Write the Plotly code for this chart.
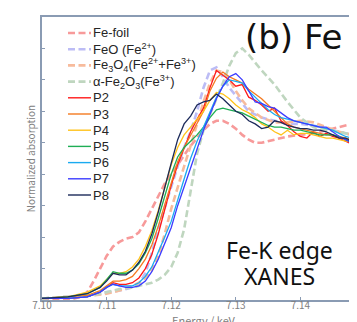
import plotly.graph_objects as go

W, H = 357, 322
ML, MR, MT, MB = 34, 0, 9, 30

# ---------------- data ----------------
E_P = [7.100, 7.104, 7.107, 7.109, 7.110, 7.111, 7.112, 7.113, 7.114, 7.115,
       7.116, 7.117, 7.118, 7.119, 7.120, 7.121, 7.122, 7.123, 7.124, 7.125,
       7.126, 7.127, 7.128, 7.129, 7.130, 7.131, 7.132, 7.133, 7.134, 7.135,
       7.136, 7.137, 7.138, 7.139, 7.140, 7.141, 7.142, 7.143, 7.144, 7.145,
       7.146, 7.147, 7.148, 7.149, 7.150]
P2 = [0.01, 0.01, 0.02, 0.05, 0.08, 0.11, 0.10, 0.10, 0.11, 0.14,
      0.20, 0.29, 0.42, 0.58, 0.73, 0.86, 0.97, 1.07, 1.15, 1.22,
      1.35, 1.46, 1.43, 1.40, 1.36, 1.37, 1.29, 1.27, 1.24, 1.20,
      1.22, 1.14, 1.11, 1.07, 1.04, 1.03, 1.07, 1.04, 1.06, 1.04,
      1.03, 1.01, 0.99, 1.02, 1.01]
P3 = [0.01, 0.02, 0.03, 0.06, 0.09, 0.12, 0.12, 0.13, 0.15, 0.20,
      0.26, 0.35, 0.47, 0.61, 0.75, 0.88, 0.97, 1.05, 1.12, 1.20,
      1.33, 1.41, 1.45, 1.42, 1.40, 1.38, 1.34, 1.31, 1.28, 1.24,
      1.20, 1.16, 1.12, 1.10, 1.09, 1.08, 1.07, 1.06, 1.05, 1.05,
      1.04, 1.03, 1.02, 1.02, 1.01]
P4 = [0.01, 0.02, 0.05, 0.09, 0.13, 0.17, 0.17, 0.18, 0.21, 0.26,
      0.34, 0.44, 0.57, 0.72, 0.86, 0.97, 1.05, 1.10, 1.15, 1.20,
      1.27, 1.32, 1.31, 1.28, 1.24, 1.21, 1.19, 1.16, 1.12, 1.10,
      1.07, 1.05, 1.08, 1.05, 1.06, 1.06, 1.05, 1.04, 1.03, 1.03,
      1.02, 1.01, 1.01, 1.00, 1.00]
P5 = [0.01, 0.02, 0.04, 0.08, 0.13, 0.18, 0.17, 0.17, 0.19, 0.23,
      0.30, 0.39, 0.52, 0.66, 0.80, 0.91, 0.97, 1.01, 1.05, 1.10,
      1.16, 1.21, 1.22, 1.21, 1.20, 1.19, 1.17, 1.15, 1.13, 1.11,
      1.10, 1.10, 1.09, 1.08, 1.08, 1.07, 1.06, 1.05, 1.05, 1.05,
      1.04, 1.02, 1.00, 1.01, 1.01]
P6 = [0.01, 0.01, 0.02, 0.05, 0.08, 0.10, 0.09, 0.09, 0.09, 0.11,
      0.15, 0.21, 0.30, 0.40, 0.50, 0.64, 0.77, 0.90, 1.01, 1.10,
      1.20, 1.29, 1.36, 1.40, 1.39, 1.38, 1.33, 1.29, 1.25, 1.21,
      1.18, 1.16, 1.15, 1.14, 1.13, 1.12, 1.11, 1.10, 1.09, 1.08,
      1.06, 1.04, 1.03, 1.01, 1.01]
P7 = [0.01, 0.01, 0.02, 0.05, 0.08, 0.10, 0.09, 0.08, 0.08, 0.09,
      0.12, 0.18, 0.26, 0.36, 0.46, 0.60, 0.72, 0.85, 0.97, 1.08,
      1.18, 1.28, 1.36, 1.42, 1.44, 1.40, 1.33, 1.26, 1.25, 1.23,
      1.22, 1.19, 1.16, 1.14, 1.13, 1.12, 1.11, 1.10, 1.10, 1.07,
      1.04, 1.02, 1.00, 0.99, 0.97]
P8 = [0.01, 0.02, 0.04, 0.08, 0.12, 0.17, 0.16, 0.16, 0.19, 0.24,
      0.31, 0.42, 0.56, 0.72, 0.87, 1.02, 1.12, 1.17, 1.24, 1.26,
      1.27, 1.31, 1.28, 1.24, 1.20, 1.18, 1.14, 1.12, 1.09, 1.10,
      1.14, 1.13, 1.11, 1.10, 1.09, 1.09, 1.08, 1.08, 1.07, 1.05,
      1.03, 1.03, 1.01, 1.00, 0.99]

E_FOIL = [7.100, 7.104, 7.106, 7.107, 7.108, 7.109, 7.110, 7.111, 7.112, 7.113,
          7.114, 7.115, 7.116, 7.117, 7.118, 7.119, 7.120, 7.121, 7.122, 7.123,
          7.124, 7.125, 7.126, 7.127, 7.128, 7.129, 7.130, 7.131, 7.132, 7.133,
          7.134, 7.135, 7.136, 7.138, 7.140, 7.142, 7.144, 7.146, 7.148, 7.150]
FE_FOIL = [0.01, 0.00, 0.02, 0.05, 0.12, 0.20, 0.28, 0.34, 0.37, 0.39,
           0.40, 0.43, 0.50, 0.58, 0.66, 0.74, 0.80, 0.86, 0.92, 0.98,
           1.03, 1.08, 1.12, 1.14, 1.14, 1.12, 1.09, 1.05, 1.02, 1.00,
           1.00, 1.01, 1.02, 1.04, 1.05, 1.06, 1.08, 1.10, 1.12, 1.13]

E_REF = [7.100, 7.105, 7.108, 7.110, 7.112, 7.114, 7.115, 7.116, 7.117, 7.118,
         7.119, 7.120, 7.121, 7.122, 7.123, 7.124, 7.125, 7.126, 7.127, 7.128,
         7.129, 7.130, 7.131, 7.132, 7.134, 7.136, 7.138, 7.140, 7.142, 7.144,
         7.146, 7.148, 7.150]
FEO = [0.01, 0.02, 0.03, 0.05, 0.06, 0.08, 0.10, 0.17, 0.30, 0.45,
       0.59, 0.72, 0.85, 0.97, 1.07, 1.20, 1.35, 1.46, 1.48, 1.42,
       1.35, 1.30, 1.25, 1.20, 1.16, 1.14, 1.12, 1.12, 1.11, 1.09,
       1.07, 1.05, 1.04]
FE3O4 = [0.01, 0.02, 0.03, 0.04, 0.06, 0.09, 0.11, 0.14, 0.19, 0.28,
         0.42, 0.58, 0.72, 0.85, 0.98, 1.12, 1.26, 1.38, 1.46, 1.45,
         1.40, 1.33, 1.27, 1.22, 1.16, 1.13, 1.13, 1.14, 1.13, 1.10,
         1.07, 1.05, 1.03]
FE2O3 = [0.01, 0.02, 0.03, 0.05, 0.07, 0.08, 0.09, 0.10, 0.11, 0.13,
         0.16, 0.21, 0.30, 0.45, 0.70, 0.93, 1.08, 1.18, 1.27, 1.38,
         1.49, 1.57, 1.60, 1.56, 1.46, 1.37, 1.26, 1.16, 1.10, 1.08,
         1.07, 1.05, 1.04]

X_TICKS = [7.10, 7.11, 7.12, 7.13, 7.14, 7.15]
X_TICK_LABELS = ["7.10", "7.11", "7.12", "7.13", "7.14", "7.15"]

REF_NAMES = ["Fe-foil", "FeO (Fe<sup>2+</sup>)",
             "Fe<sub>3</sub>O<sub>4</sub>(Fe<sup>2+</sup>+Fe<sup>3+</sup>)",
             "α-Fe<sub>2</sub>O<sub>3</sub>(Fe<sup>3+</sup>)"]
SAMPLE_NAMES = ["P2", "P3", "P4", "P5", "P6", "P7", "P8"]

# ---------------- styles ----------------
REF_COLORS = ["#f79a9a", "#bcbcf5", "#f7bb9c", "#bfd6bf"]
SAMPLE_COLORS = ["#ff1a1a", "#f47a20", "#ffc21a", "#1fae55", "#1aaaf0", "#3c3cff", "#1c2a5a"]
DASH = "7px,3.5px"
AX = "#8a9bb3"
GRAY = "#808080"

refs = [(E_FOIL, FE_FOIL), (E_REF, FEO), (E_REF, FE3O4), (E_REF, FE2O3)]
samples = [P2, P3, P4, P5, P6, P7, P8]

fig = go.Figure()
for (ex, ey), name, col in zip(refs, REF_NAMES, REF_COLORS):
    fig.add_trace(go.Scatter(x=ex, y=ey, mode="lines", name=name, showlegend=False,
                             line=dict(color=col, width=2.6, dash=DASH)))
for ys, name, col in zip(samples, SAMPLE_NAMES, SAMPLE_COLORS):
    fig.add_trace(go.Scatter(x=E_P, y=ys, mode="lines", name=name, showlegend=False,
                             line=dict(color=col, width=1.3)))

# ---------------- manual legend (compact spacing) ----------------
PW = W - ML - MR
PH = H - MT - MB
def px2paper(xp, yp):
    return (xp - ML) / PW, (H - MB - yp) / PH

entries = ([(n, c, DASH, 2.6) for n, c in zip(REF_NAMES, REF_COLORS)] +
           [(n, c, "solid", 1.4) for n, c in zip(SAMPLE_NAMES, SAMPLE_COLORS)])
for i, (name, col, dash, lw) in enumerate(entries):
    yc = 25 + i * 16.2
    x0, yy = px2paper(60, yc)
    x1, _ = px2paper(83, yc)
    xt, _ = px2paper(83, yc)
    fig.add_shape(type="line", xref="paper", yref="paper", x0=x0, x1=x1, y0=yy, y1=yy,
                  line=dict(color=col, width=lw, dash=dash))
    fig.add_annotation(xref="paper", yref="paper", x=xt, y=yy, text=name, showarrow=False,
                       xanchor="left", yanchor="middle",
                       font=dict(family="Liberation Sans, Arial", size=13, color="#262626"))

# ---------------- text annotations ----------------
xa, ya = px2paper(235, 29)
fig.add_annotation(xref="paper", yref="paper", x=xa, y=ya, text="(b) Fe", showarrow=False,
                   xanchor="left", yanchor="middle",
                   font=dict(family="DejaVu Sans", size=34, color="#111111"))
for txt, yc in [("Fe-K edge", 242), ("XANES", 268)]:
    xa, ya = px2paper(271, yc)
    fig.add_annotation(xref="paper", yref="paper", x=xa, y=ya, text=txt, showarrow=False,
                       xanchor="center", yanchor="middle",
                       font=dict(family="Noto Sans", size=23, color="#111111"))

fig.update_layout(
    width=W, height=H,
    margin=dict(l=ML, r=MR, t=MT, b=MB),
    paper_bgcolor="white", plot_bgcolor="white",
    showlegend=False,
    xaxis=dict(range=[7.10, 7.15], tickvals=X_TICKS, ticktext=X_TICK_LABELS,
               ticks="inside", ticklen=3, tickwidth=1, tickcolor=AX,
               showline=True, linecolor=AX, linewidth=1.6, mirror=True,
               showgrid=False, zeroline=False, automargin=False,
               ticklabelstandoff=-5,
               tickfont=dict(family="Noto Sans CJK JP", size=10, color=GRAY),
               title=dict(text="Energy / keV", standoff=0,
                          font=dict(family="Noto Sans CJK JP", size=11, color=GRAY))),
    yaxis=dict(range=[0, 1.8], tick0=0, dtick=0.2,
               ticks="inside", ticklen=3, tickwidth=1, tickcolor=AX,
               showticklabels=False, showline=True, linecolor=AX, linewidth=1.6,
               showgrid=False, zeroline=False, automargin=False,
               title=dict(text="Normalized absorption", standoff=3,
                          font=dict(family="Noto Sans CJK JP", size=10, color=GRAY))),
)

fig.write_html("out.html")
